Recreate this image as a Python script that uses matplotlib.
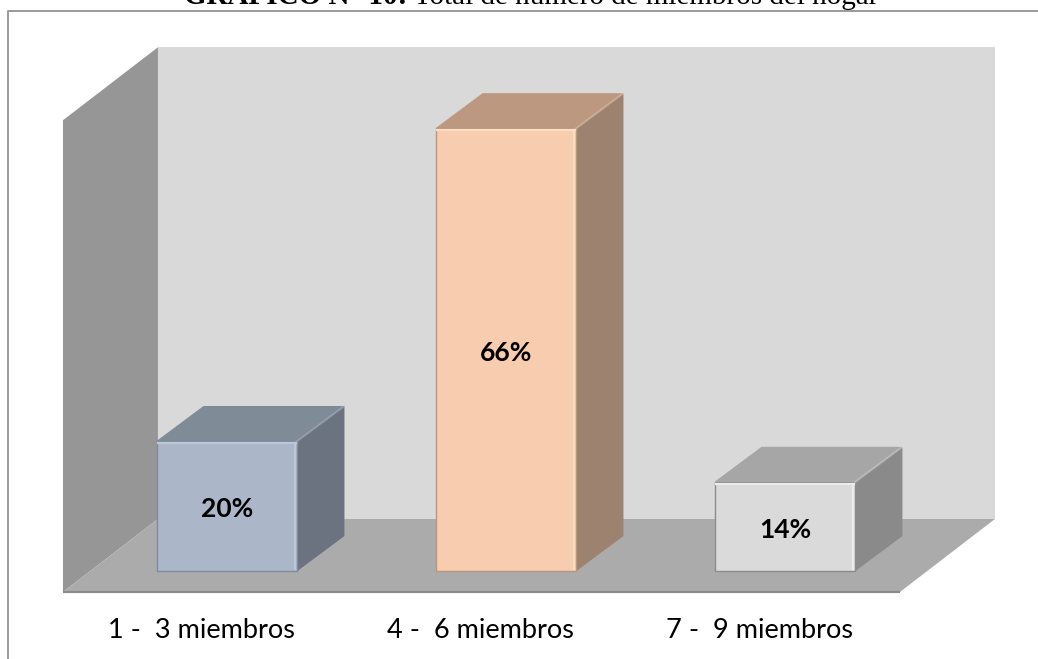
import matplotlib
matplotlib.use('Agg')
import matplotlib.pyplot as plt
from matplotlib.patches import Polygon

categories = ['1 -  3 miembros', '4 -  6 miembros', '7 -  9 miembros']
values = [20, 66, 14]
labels = ['20%', '66%', '14%']
front_colors = ['#abb7c9', '#f8ccae', '#dadada']
top_colors = ['#808b98', '#bb987f', '#a6a6a6']
side_colors = ['#6b7280', '#9d8270', '#8a8a8a']
edge_colors = ['#bcc8d8', '#ffdcc2', '#ececec']
line_colors = ['#7f8a9a', '#b8977e', '#8c8c8c']

# scale of the picture: pixels per category and per percent point
px_cat = 279
px_val = 6.8
axis_min = 0.88
wall_max = 77.9
bar_w = 0.505
# 3d offset of the bars and of the floor, in axis units
depth_x = 47 / px_cat
depth_y = 35 / px_val
floor_x = 95 / px_cat
floor_y = 73 / px_val
# front of the floor is in front of the bars
front_x = -0.588
right_x = 2.412
front_y = axis_min - 21 / px_val

fig = plt.figure(figsize=(10.38, 6.59), dpi=100)
ax = fig.add_axes([0, 0, 1, 1])
x_lo = -227 / px_cat
x_hi = (1038 - 227) / px_cat
y_lo = axis_min - 88 / px_val
y_hi = axis_min + 571 / px_val
ax.set_xlim(x_lo, x_hi)
ax.set_ylim(y_lo, y_hi)
ax.axis('off')

# chart border, only top and left are in the picture
border_x = x_lo + 8 / px_cat
border_y = y_hi - 10.5 / px_val
ax.plot([x_hi, border_x, border_x], [border_y, border_y, y_lo], color='#9a9a9a', lw=1.4)

# walls and floor
back_x = front_x + floor_x
back_y = front_y + floor_y
ax.add_patch(Polygon([(back_x, back_y), (right_x + floor_x, back_y),
                      (right_x + floor_x, wall_max), (back_x, wall_max)], fc='#d9d9d9', ec='none'))
ax.add_patch(Polygon([(front_x, front_y), (back_x, back_y), (back_x, wall_max),
                      (front_x, wall_max - floor_y)], fc='#969696', ec='none'))
ax.add_patch(Polygon([(front_x, front_y), (right_x, front_y), (right_x + floor_x, back_y),
                      (back_x, back_y)], fc='#ababab', ec='none'))
ax.plot([front_x, right_x], [front_y, front_y], color='#8a8a8a', lw=1.5, solid_capstyle='butt')

for i in range(3):
    x0 = i - bar_w / 2
    x1 = i + bar_w / 2
    top = values[i]
    ax.add_patch(Polygon([(x0, top), (x1, top), (x1 + depth_x, top + depth_y),
                          (x0 + depth_x, top + depth_y)], fc=top_colors[i], ec='none'))
    ax.add_patch(Polygon([(x1, axis_min), (x1, top), (x1 + depth_x, top + depth_y),
                          (x1 + depth_x, axis_min + depth_y)], fc=side_colors[i], ec='none'))
    ax.bar(i, top - axis_min, bottom=axis_min, width=bar_w, color=front_colors[i],
           edgecolor=line_colors[i], linewidth=1)
    # bevel highlights
    ax.plot([x0 + 0.006, x1 - 0.006], [top - 0.3, top - 0.3], color=edge_colors[i], lw=1.6)
    ax.plot([x1 - 0.007, x1 - 0.007], [axis_min + 0.3, top - 0.3], color=edge_colors[i], lw=1.6)
    ax.plot([x1, x1 + depth_x], [top, top + depth_y], color=edge_colors[i], lw=1.6, alpha=0.3)
    ax.text(i, (top + axis_min) / 2 - 0.5, labels[i], ha='center', va='center',
            family='Lato', weight='bold', fontsize=19, color='black')
    ax.text(i - 0.09, axis_min - 59 / px_val, categories[i], ha='center', va='center',
            family='Lato', fontsize=19.5, color='black')

# title, cut by the top of the picture
t1 = ax.text(x_lo + 184 / px_cat, y_hi - 4 / px_val, 'GRÁFICO N° 10:', ha='left', va='baseline',
             family='Liberation Serif', weight='bold', fontsize=21)
ax.annotate(' Total de número de miembros del hogar', xy=(1, 0), xycoords=t1, ha='left', va='bottom',
            family='Liberation Serif', fontsize=21)

fig.savefig('out.png', dpi=100)
